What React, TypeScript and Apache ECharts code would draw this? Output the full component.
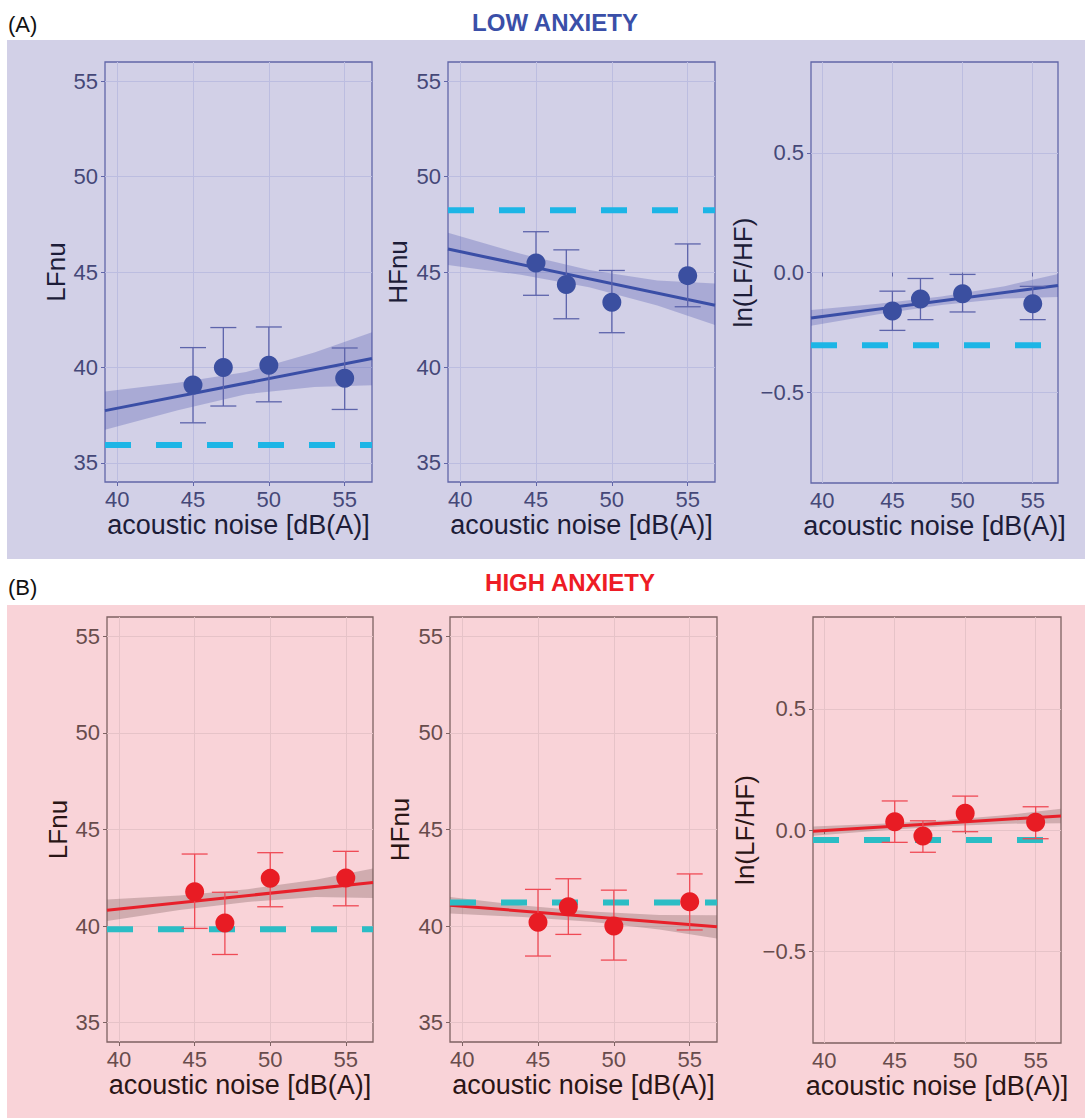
import React, { useEffect, useRef } from "react";
import * as echarts from "echarts";

// ---------- data ----------
const xTicks = [40, 45, 50, 55];
const nuTicks = [35, 40, 45, 50, 55];
const lnTicks = [-0.5, 0, 0.5];
const noiseLevels = [45, 47, 50, 55];
const fitX = [39.2, 56.8];
const ribbonX = [39.2, 44, 48.5, 53, 56.8];

// LOW ANXIETY
const lowLFMean = [39.08, 40.0, 40.12, 39.43];
const lowLFLo = [37.1, 37.98, 38.2, 37.8];
const lowLFHi = [41.04, 42.09, 42.12, 41.02];
const lowLFFit = [37.74, 40.47];
const lowLFBandLo = [36.74, 37.76, 38.6, 38.98, 39.07];
const lowLFBandHi = [38.74, 39.2, 39.76, 40.78, 41.85];
const lowLFBaseline = 35.94;

const lowHFMean = [45.47, 44.34, 43.42, 44.81];
const lowHFLo = [43.78, 42.55, 41.82, 43.18];
const lowHFHi = [47.11, 46.16, 45.08, 46.47];
const lowHFFit = [46.2, 43.26];
const lowHFBandLo = [45.37, 44.85, 44.2, 43.25, 42.22];
const lowHFBandHi = [47.05, 45.95, 45.1, 44.55, 44.4];
const lowHFBaseline = 48.24;

const lowLnMean = [-0.161, -0.111, -0.089, -0.131];
const lowLnLo = [-0.242, -0.197, -0.165, -0.197];
const lowLnHi = [-0.078, -0.025, -0.008, -0.058];
const lowLnFit = [-0.19, -0.054];
const lowLnBandLo = [-0.223, -0.175, -0.136, -0.109, -0.102];
const lowLnBandHi = [-0.157, -0.131, -0.1, -0.057, -0.006];
const lowLnBaseline = -0.304;

// HIGH ANXIETY
const highLFMean = [41.78, 40.16, 42.47, 42.49];
const highLFLo = [39.88, 38.53, 41.0, 41.05];
const highLFHi = [43.73, 41.75, 43.8, 43.87];
const highLFFit = [40.82, 42.26];
const highLFBandLo = [40.26, 40.83, 41.25, 41.5, 41.45];
const highLFBandHi = [41.38, 41.59, 41.91, 42.4, 42.98];
const highLFBaseline = 39.84;

const highHFMean = [40.2, 41.0, 40.0, 41.26];
const highHFLo = [38.45, 39.57, 38.24, 39.8];
const highHFHi = [41.9, 42.45, 41.86, 42.7];
const highHFFit = [41.08, 39.96];
const highHFBandLo = [40.65, 40.47, 40.22, 39.82, 39.36];
const highHFBandHi = [41.51, 41.07, 40.76, 40.58, 40.56];
const highHFBaseline = 41.22;

const highLnMean = [0.034, -0.025, 0.069, 0.032];
const highLnLo = [-0.051, -0.092, -0.007, -0.036];
const highLnHi = [0.12, 0.038, 0.14, 0.096];
const highLnFit = [-0.005, 0.058];
const highLnBandLo = [-0.024, -0.002, 0.016, 0.026, 0.028];
const highLnBandHi = [0.014, 0.026, 0.04, 0.062, 0.088];
const highLnBaseline = -0.041;

const xName = "acoustic noise [dB(A)]";
const FONT = "'Liberation Sans', Arial, Helvetica, sans-serif";

type Theme = {
  border: string;
  grid: string;
  tick: string;
  title: string;
  point: string;
  line: string;
  err: string;
  band: string;
  dash: string;
};

const lowTheme: Theme = {
  border: "#6166a8",
  grid: "#bcbde0",
  tick: "#454878",
  title: "#1c1c38",
  point: "#3b4fa0",
  line: "#3a4ea6",
  err: "#5d64ab",
  band: "rgba(60,70,165,0.27)",
  dash: "#1cb5e6",
};
const highTheme: Theme = {
  border: "#7d6262",
  grid: "#e6c3c8",
  tick: "#684c4c",
  title: "#2a1515",
  point: "#e81c24",
  line: "#e8202a",
  err: "#ef4a55",
  band: "rgba(120,90,90,0.32)",
  dash: "#2bbdc5",
};

type PanelDef = {
  left: number;
  top: number;
  width: number;
  height: number;
  theme: Theme;
  yName: string;
  yMin: number;
  yMax: number;
  yTicks: number[];
  nameGap: number;
  mean: number[];
  lo: number[];
  hi: number[];
  fit: number[];
  bandLo: number[];
  bandHi: number[];
  baseline: number;
  ln: boolean;
};

const panels: PanelDef[] = [
  { left: 105, top: 62, width: 267, height: 420, theme: lowTheme, yName: "LFnu", yMin: 34, yMax: 56, yTicks: nuTicks, nameGap: 36, mean: lowLFMean, lo: lowLFLo, hi: lowLFHi, fit: lowLFFit, bandLo: lowLFBandLo, bandHi: lowLFBandHi, baseline: lowLFBaseline, ln: false },
  { left: 448, top: 62, width: 267, height: 420, theme: lowTheme, yName: "HFnu", yMin: 34, yMax: 56, yTicks: nuTicks, nameGap: 37, mean: lowHFMean, lo: lowHFLo, hi: lowHFHi, fit: lowHFFit, bandLo: lowHFBandLo, bandHi: lowHFBandHi, baseline: lowHFBaseline, ln: false },
  { left: 811, top: 62, width: 247, height: 421, theme: lowTheme, yName: "ln(LF/HF)", yMin: -0.88, yMax: 0.88, yTicks: lnTicks, nameGap: 55, mean: lowLnMean, lo: lowLnLo, hi: lowLnHi, fit: lowLnFit, bandLo: lowLnBandLo, bandHi: lowLnBandHi, baseline: lowLnBaseline, ln: true },
  { left: 107, top: 617, width: 266, height: 425, theme: highTheme, yName: "LFnu", yMin: 34, yMax: 56, yTicks: nuTicks, nameGap: 36, mean: highLFMean, lo: highLFLo, hi: highLFHi, fit: highLFFit, bandLo: highLFBandLo, bandHi: highLFBandHi, baseline: highLFBaseline, ln: false },
  { left: 450, top: 617, width: 267, height: 425, theme: highTheme, yName: "HFnu", yMin: 34, yMax: 56, yTicks: nuTicks, nameGap: 37, mean: highHFMean, lo: highHFLo, hi: highHFHi, fit: highHFFit, bandLo: highHFBandLo, bandHi: highHFBandHi, baseline: highHFBaseline, ln: false },
  { left: 813, top: 617, width: 248, height: 426, theme: highTheme, yName: "ln(LF/HF)", yMin: -0.88, yMax: 0.88, yTicks: lnTicks, nameGap: 55, mean: highLnMean, lo: highLnLo, hi: highLnHi, fit: highLnFit, bandLo: highLnBandLo, bandHi: highLnBandHi, baseline: highLnBaseline, ln: true },
];

function buildOption() {
  const grids: any[] = [];
  const xAxes: any[] = [];
  const yAxes: any[] = [];
  const series: any[] = [];

  panels.forEach((p, i) => {
    const t = p.theme;
    grids.push({
      left: p.left,
      top: p.top,
      width: p.width,
      height: p.height,
      show: true,
      borderColor: t.border,
      borderWidth: 1.3,
      backgroundColor: "transparent",
      containLabel: false,
      outerBoundsMode: "none",
    });
    xAxes.push({
      type: "value",
      gridIndex: i,
      min: fitX[0],
      max: fitX[1],
      axisLine: { show: false },
      axisTick: { show: true, length: 4, lineStyle: { color: t.border, width: 1 }, customValues: xTicks },
      axisLabel: { color: t.tick, fontSize: 22, fontFamily: FONT, margin: 6, customValues: xTicks },
      splitLine: { show: true, lineStyle: { color: t.grid, width: 1 } },
      name: xName,
      nameLocation: "middle",
      nameGap: 29,
      nameTextStyle: { color: t.title, fontSize: 27, fontFamily: FONT },
    });
    yAxes.push({
      type: "value",
      gridIndex: i,
      min: p.yMin,
      max: p.yMax,
      axisLine: { show: false },
      axisTick: { show: true, length: 4, lineStyle: { color: t.border, width: 1 }, customValues: p.yTicks },
      axisLabel: {
        color: t.tick,
        fontSize: 22,
        fontFamily: FONT,
        margin: 7,
        customValues: p.yTicks,
        formatter: (v: number) => (p.ln ? v.toFixed(1).replace("-", "\u2212") : String(v)),
      },
      splitLine: { show: true, lineStyle: { color: t.grid, width: 1 } },
      name: p.yName,
      nameLocation: "middle",
      nameGap: p.nameGap,
      nameTextStyle: { color: t.title, fontSize: 26, fontFamily: FONT },
    });

    const bandData = ribbonX.map((x, k) => [x, p.bandLo[k], p.bandHi[k]]);
    series.push({
      type: "custom",
      xAxisIndex: i,
      yAxisIndex: i,
      clip: true,
      z: 1,
      silent: true,
      data: bandData,
      encode: { x: 0, y: [1, 2] },
      renderItem: (params: any, api: any) => {
        if (params.dataIndex !== 0) return null;
        const upper = bandData.map((d) => api.coord([d[0], d[2]]));
        const lower = bandData.map((d) => api.coord([d[0], d[1]])).reverse();
        return {
          type: "polygon",
          shape: { points: upper.concat(lower) },
          style: { fill: t.band, stroke: "none" },
        };
      },
    });
    series.push({
      type: "line",
      xAxisIndex: i,
      yAxisIndex: i,
      data: fitX.map((x, k) => [x, p.fit[k]]),
      showSymbol: false,
      symbol: "none",
      lineStyle: { color: t.line, width: 3 },
      z: 2,
      silent: true,
    });
    series.push({
      type: "line",
      xAxisIndex: i,
      yAxisIndex: i,
      data: fitX.map((x) => [x, p.baseline]),
      showSymbol: false,
      symbol: "none",
      lineStyle: { color: t.dash, width: 6, type: [26, 25], cap: "butt" },
      z: 3,
      silent: true,
    });
    series.push({
      type: "custom",
      xAxisIndex: i,
      yAxisIndex: i,
      z: 4,
      silent: true,
      data: noiseLevels.map((x, k) => [x, p.lo[k], p.hi[k]]),
      encode: { x: 0, y: [1, 2] },
      renderItem: (params: any, api: any) => {
        const x = api.value(0);
        const a = api.coord([x, api.value(1)]);
        const b = api.coord([x, api.value(2)]);
        const hw = 13;
        const st = { stroke: t.err, lineWidth: 1.3 };
        return {
          type: "group",
          children: [
            { type: "line", shape: { x1: a[0], y1: a[1], x2: b[0], y2: b[1] }, style: st },
            { type: "line", shape: { x1: a[0] - hw, y1: a[1], x2: a[0] + hw, y2: a[1] }, style: st },
            { type: "line", shape: { x1: b[0] - hw, y1: b[1], x2: b[0] + hw, y2: b[1] }, style: st },
          ],
        };
      },
    });
    series.push({
      type: "scatter",
      xAxisIndex: i,
      yAxisIndex: i,
      z: 5,
      symbolSize: 19,
      itemStyle: { color: t.point, opacity: 1 },
      data: noiseLevels.map((x, k) => [x, p.mean[k]]),
      silent: true,
    });
  });

  const graphic: any[] = [
    { type: "rect", z: -100, shape: { x: 7, y: 40, width: 1078, height: 519 }, style: { fill: "#d2d0e7" }, silent: true },
    { type: "rect", z: -100, shape: { x: 7, y: 605, width: 1078, height: 513 }, style: { fill: "#f9d3d8" }, silent: true },
    { type: "text", x: 8, y: 24, style: { text: "(A)", fontSize: 22, fontFamily: FONT, fill: "#111", verticalAlign: "middle" } },
    { type: "text", x: 8, y: 587, style: { text: "(B)", fontSize: 22, fontFamily: FONT, fill: "#111", verticalAlign: "middle" } },
    { type: "text", x: 555, y: 22, style: { text: "LOW ANXIETY", fontSize: 24, fontWeight: "bold", fontFamily: FONT, fill: "#3a4fa8", align: "center", verticalAlign: "middle" } },
    { type: "text", x: 570, y: 582, style: { text: "HIGH ANXIETY", fontSize: 24, fontWeight: "bold", fontFamily: FONT, fill: "#ee1c25", align: "center", verticalAlign: "middle" } },
  ];

  return {
    animation: false,
    backgroundColor: "#ffffff",
    textStyle: { fontFamily: FONT },
    grid: grids,
    xAxis: xAxes,
    yAxis: yAxes,
    series,
    graphic,
  };
}

export default function App() {
  const ref = useRef<HTMLDivElement>(null);
  useEffect(() => {
    document.body.style.margin = "0";
    if (!ref.current) return;
    const chart = echarts.init(ref.current, undefined, { renderer: "svg" });
    chart.setOption(buildOption() as any);
    return () => chart.dispose();
  }, []);
  return (
    <div
      ref={ref}
      style={{ position: "absolute", left: 0, top: 0, width: 1085, height: 1118 }}
    />
  );
}
